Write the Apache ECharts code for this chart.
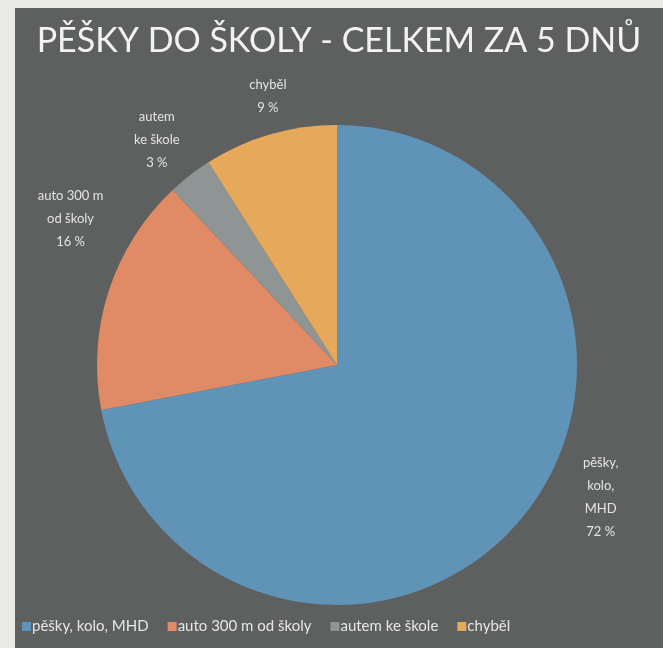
<!DOCTYPE html>
<html>
<head>
<meta charset="utf-8">
<script src="https://cdn.jsdelivr.net/npm/echarts@6/dist/echarts.min.js"></script>
<style>
html,body{margin:0;padding:0;background:#e9e9e6;width:663px;height:648px;overflow:hidden;}
#c{position:absolute;left:15px;top:8px;width:648px;height:640px;}
</style>
</head>
<body>
<div id="c"></div>
<script>
const titleText = 'PĚŠKY DO ŠKOLY - CELKEM ZA 5 DNŮ';
const categories = ['pěšky, kolo, MHD', 'auto 300 m od školy', 'autem ke škole', 'chyběl'];
const labelTexts = ['pěšky,\nkolo,\nMHD', 'auto 300 m\nod školy', 'autem\nke škole', 'chyběl'];
const values = [72, 16, 3, 9];
const colors = ['#5f94b8', '#e08a66', '#8f9595', '#e6a85a'];
// label nudges (best-fit placement in the original)
const labelShiftX = [43, 0, 7, 14];
const labelShiftY = [-46, -60, -16, 0];

const chart = echarts.init(document.getElementById('c'));
chart.setOption({
  backgroundColor: '#5e6060',
  color: colors,
  title: {
    text: titleText,
    left: 'center',
    top: 11,
    textStyle: {color: '#f2f2f2', fontFamily: 'Lato', fontWeight: 'normal', fontSize: 34}
  },
  legend: {
    bottom: 9,
    left: 2,
    icon: 'rect',
    itemWidth: 9,
    itemHeight: 9,
    itemGap: 19,
    textStyle: {color: '#e6e6e6', fontFamily: 'Lato', fontSize: 15, padding: [0,0,0,-4]},
    data: categories
  },
  series: [{
    type: 'pie',
    center: [322, 357],
    radius: 240,
    startAngle: 90,
    clockwise: true,
    data: categories.map((c, i) => ({name: c, value: values[i]})),
    label: {
      show: true,
      position: 'outside',
      formatter: p => labelTexts[p.dataIndex] + '\n' + p.value + ' %',
      color: '#e4e4e4',
      fontFamily: 'Lato',
      fontSize: 13,
      lineHeight: 23,
      overflow: 'none'
    },
    labelLine: {show: false, length: 40, length2: 0},
    labelLayout: function (p) {
      return {align: 'center', verticalAlign: 'middle', dx: labelShiftX[p.dataIndex], dy: labelShiftY[p.dataIndex]};
    },
    emphasis: {disabled: true}
  }]
});
</script>
</body>
</html>
